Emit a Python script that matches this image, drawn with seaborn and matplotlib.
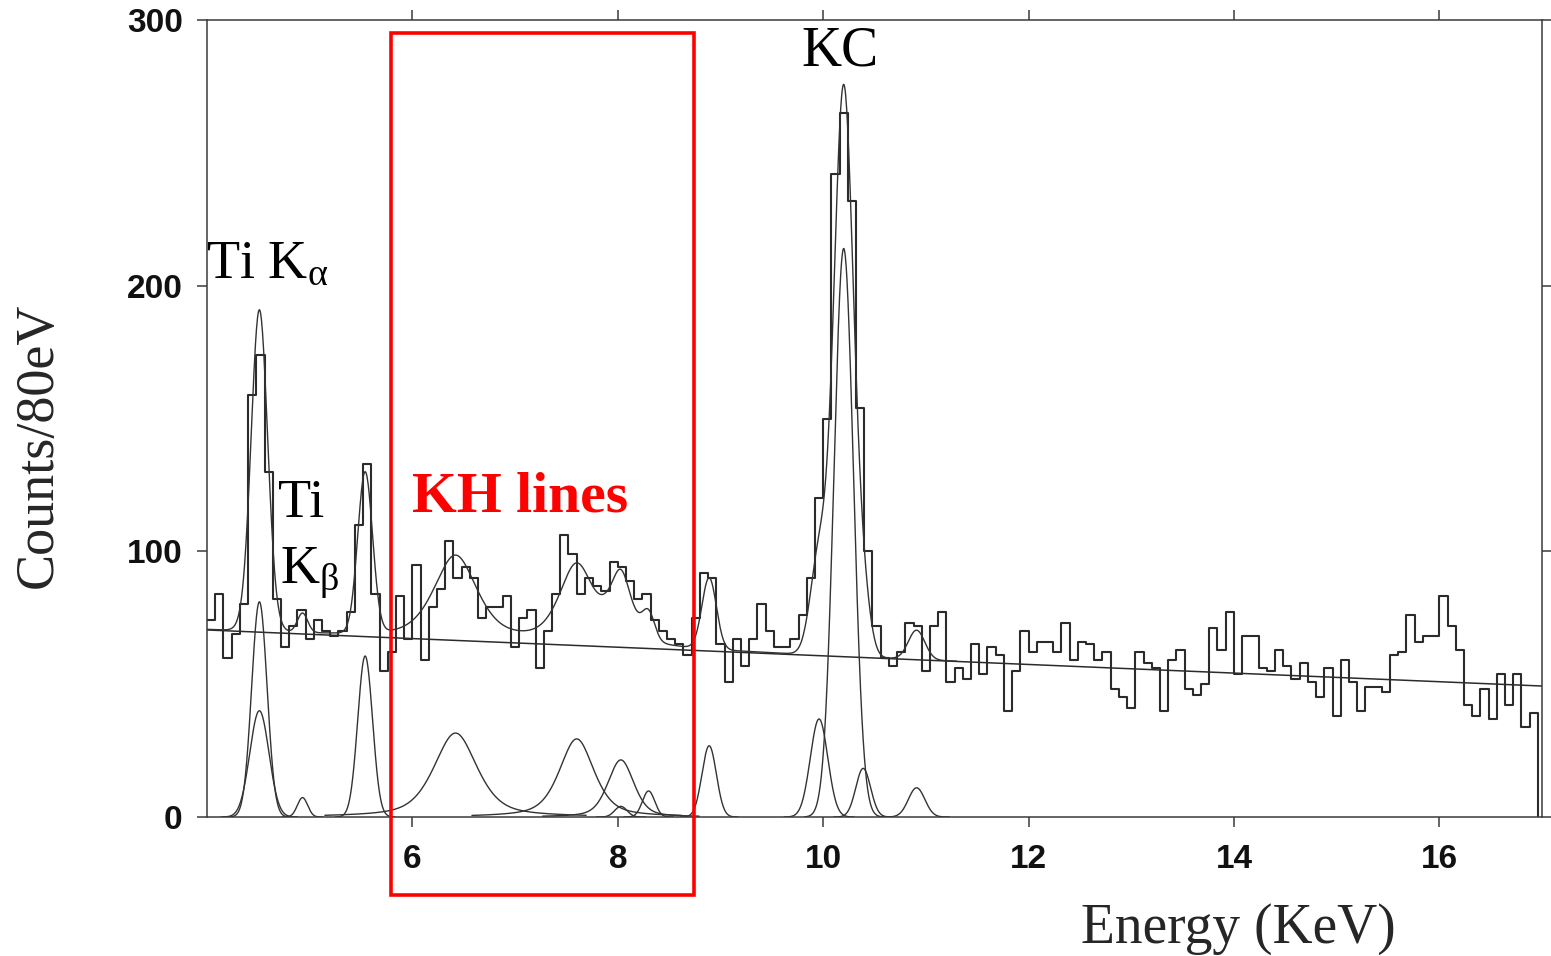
import numpy as np
import pandas as pd
import matplotlib
matplotlib.use("Agg")
import matplotlib.pyplot as plt
from matplotlib.patches import Rectangle
import seaborn as sns

# ---- measured spectrum: counts per 80 eV channel, first channel starts at 4.00 keV
channel_start = 4.0
channel_width = 0.08
counts = [
    74, 84, 60, 69, 80, 159, 174, 130, 82, 64,      # 4.00 - 4.72
    72, 78, 67, 74, 70, 68, 70, 77, 110, 133,       # 4.80 - 5.52
    84, 55, 62, 83, 67, 95, 59, 79, 86, 104,        # 5.60 - 6.32
    90, 94, 90, 75, 79, 79, 83, 64, 75, 78,         # 6.40 - 7.12
    56, 70, 84, 106, 99, 84, 90, 87, 85, 96,        # 7.20 - 7.92
    94, 89, 82, 84, 74, 70, 67, 65, 61, 75,         # 8.00 - 8.72
    92, 90, 65, 51, 67, 57, 67, 80, 70, 64,         # 8.80 - 9.52
    64, 67, 76, 90, 120, 150, 242, 265, 232, 154,   # 9.60 - 10.32
    100, 72, 60, 57, 62, 73, 72, 55, 72, 77,        # 10.40 - 11.12
    51, 56, 52, 65, 54, 64, 61, 40, 55, 70,         # 11.20 - 11.92
    62, 66, 66, 62, 73, 59, 66, 65, 59, 62,         # 12.00 - 12.72
    48, 45, 41, 62, 58, 56, 40, 59, 63, 48,         # 12.80 - 13.52
    46, 50, 71, 63, 77, 54, 68, 68, 56, 55,         # 13.60 - 14.32
    63, 57, 52, 58, 51, 45, 56, 38, 59, 51,         # 14.40 - 15.12
    40, 49, 49, 47, 61, 62, 76, 66, 68, 68,         # 15.20 - 15.92
    83, 72, 63, 42, 38, 48, 37, 54, 42, 54,         # 16.00 - 16.72
    34, 39,                                          # 16.80 - 16.88
]

# ---- fitted model
# linear continuum, given at both ends of the energy axis
bg_energy = [4.0, 17.0]
bg_counts = [70.4, 49.3]

# fitted lines: centre (keV), height (counts), Gaussian sigma (keV), Lorentzian share
line_center = [4.51, 4.51, 4.93, 5.54, 6.42, 7.60, 8.03, 8.03, 8.30, 8.89, 9.96, 10.20, 10.39, 10.91]
line_height = [81.0, 40.0, 7.3, 60.6, 31.6, 29.4, 21.5, 4.0, 9.8, 26.8, 36.9, 214.0, 18.3, 11.0]
line_sigma = [0.075, 0.093, 0.05, 0.072, 0.212, 0.17, 0.127, 0.06, 0.06, 0.07, 0.085, 0.095, 0.072, 0.08]
line_lorentz = [0, 0, 0, 0, 0.55, 0.55, 0.4, 0, 0, 0, 0, 0, 0, 0]

# axis ticks
x_ticks = [6, 8, 10, 12, 14, 16]
y_ticks = [0, 100, 200, 300]


def line_profile(e, c, h, s, eta):
    """Pseudo-Voigt line shape sharing one FWHM between both parts."""
    gamma = 1.1774 * s
    gauss = np.exp(-0.5 * ((e - c) / s) ** 2)
    lorentz = 1.0 / (1.0 + ((e - c) / gamma) ** 2)
    return h * (eta * lorentz + (1.0 - eta) * gauss)


sns.set_style("ticks")
plt.rcParams["font.family"] = ["Liberation Serif", "DejaVu Serif"]
plt.rcParams["mathtext.fontset"] = "custom"
plt.rcParams["mathtext.rm"] = "Liberation Serif"
plt.rcParams["mathtext.it"] = "Liberation Serif:italic"

W, H = 1551, 956
fig = plt.figure(figsize=(W / 100, H / 100), dpi=100)
ax = fig.add_axes([207 / W, (H - 817) / H, (1542 - 207) / W, (817 - 20) / H])

ink = "#2b2b2b"

# histogram of the measured counts
n = len(counts)
spec = pd.DataFrame({
    "energy": channel_start + channel_width * (np.arange(n) + 0.5),
    "counts": counts,
})
last_edge = channel_start + channel_width * n
sns.histplot(data=spec, x="energy", weights="counts", bins=n,
             binrange=(channel_start, last_edge), element="step", fill=False,
             color=ink, linewidth=1.5, ax=ax)
ax.vlines(last_edge, 0, counts[-1], color=ink, linewidth=1.5)

# continuum
e_all = np.linspace(bg_energy[0], bg_energy[1], 800)
bg = np.interp(e_all, bg_energy, bg_counts)
sns.lineplot(x=e_all, y=bg, color=ink, linewidth=1.1, ax=ax, estimator=None, sort=False)

# individual line components
for c, h, s, eta in zip(line_center, line_height, line_sigma, line_lorentz):
    half = 4.0 * s if eta == 0 else 6.0 * s
    e = np.linspace(c - half, c + half, 300)
    sns.lineplot(x=e, y=line_profile(e, c, h, s, eta), color="#333333",
                 linewidth=1.0, ax=ax, estimator=None, sort=False)

# total fit = continuum + all lines
e_fit = np.linspace(4.0, 11.3, 1500)
total = np.interp(e_fit, bg_energy, bg_counts)
for c, h, s, eta in zip(line_center, line_height, line_sigma, line_lorentz):
    total = total + line_profile(e_fit, c, h, s, eta)
sns.lineplot(x=e_fit, y=total, color="#333333", linewidth=1.0, ax=ax,
             estimator=None, sort=False)

# axes styling
ax.set_xlim(4.0, 17.0)
ax.set_ylim(0, 300)
ax.set_xticks(x_ticks)
ax.set_yticks(y_ticks)
ax.set_xlabel("")
ax.set_ylabel("")
for sp in ax.spines.values():
    sp.set_visible(True)
    sp.set_color("#3a3a3a")
    sp.set_linewidth(1.1)
ax.tick_params(axis="both", which="major", direction="out", length=7.5, width=1.1,
               color="#3a3a3a", top=True, right=True, labeltop=False, labelright=False)
ax.tick_params(axis="x", pad=12)
ax.tick_params(axis="y", pad=10)
for lab in ax.get_xticklabels() + ax.get_yticklabels():
    lab.set_fontfamily("Liberation Sans")
    lab.set_fontweight("bold")
    lab.set_fontsize(24)
    lab.set_color("#111111")

# annotations
ax.text(3.99, 203, r"Ti K$_{\mathrm{α}}$", fontsize=39, color="black", ha="left", va="baseline")
ax.text(4.69, 113, "Ti", fontsize=39, color="black", ha="left", va="baseline")
ax.text(4.71, 88, r"K$_{\mathrm{β}}$", fontsize=39, color="black", ha="left", va="baseline")
ax.text(10.16, 283, "KC", fontsize=40, color="black", ha="center", va="baseline")
ax.text(6.0, 115, "KH lines", fontsize=41.5, color="#ff0000", fontweight="bold",
        ha="left", va="baseline")
ax.add_patch(Rectangle((5.79, -29.4), 8.745 - 5.79, 295 + 29.4, fill=False,
                       edgecolor="#ff0000", linewidth=2.6, clip_on=False, zorder=5))

fig.text(39 / W, 1 - 445 / H, "Counts/80eV", rotation=90, fontsize=39,
         ha="center", va="center")
fig.text(1238 / W, 1 - 929 / H, "Energy (KeV)", fontsize=40, ha="center", va="center")

fig.savefig("out.png", dpi=100, facecolor="white")
